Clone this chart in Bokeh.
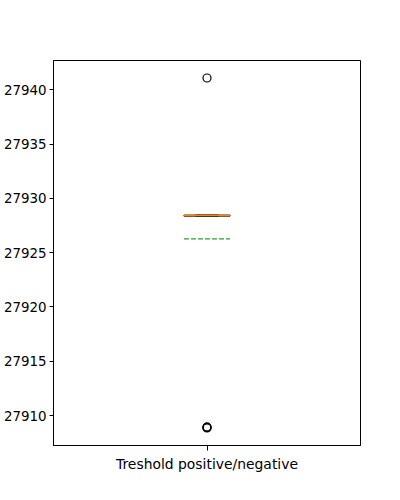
from bokeh.plotting import figure
from bokeh.models import FixedTicker, Range1d
from bokeh.embed import file_html
from bokeh.resources import INLINE

# ---- data ----
categories = ["Treshold positive/negative"]
positions = [1]
q1 = [27928.36]
median = [27928.42]
q3 = [27928.46]
whisker_low = [27928.36]
whisker_high = [27928.46]
mean = [27926.28]
outlier_x = [1, 1, 1, 1]
outlier_y = [27941.09, 27908.85, 27908.9, 27908.95]
y_ticks = [27910, 27915, 27920, 27925, 27930, 27935, 27940]

box_half = 0.075
cap_half = 0.0375
FONT = "DejaVu Sans"

p = figure(width=400, height=500, output_backend="svg", toolbar_location=None,
           x_range=Range1d(0.5, 1.5), y_range=Range1d(27907.24, 27942.70),
           min_border_left=50, min_border_right=40, min_border_top=60,
           min_border_bottom=55)

p.grid.visible = False
p.outline_line_color = "black"
p.outline_line_width = 1
p.background_fill_color = "white"
p.border_fill_color = "white"

for ax in (p.xaxis[0], p.yaxis[0]):
    ax.axis_line_color = "black"
    ax.major_tick_line_color = "black"
    ax.major_tick_in = 0
    ax.minor_tick_line_color = None
    ax.major_label_text_font = FONT
    ax.major_label_text_color = "black"

p.xaxis.major_tick_out = 5
p.xaxis.major_label_standoff = 5
p.xaxis.major_label_text_font_size = "13.9px"
p.yaxis.major_tick_out = 4
p.yaxis.major_label_standoff = 3
p.yaxis.major_label_text_font_size = "13.4px"

p.yaxis.ticker = FixedTicker(ticks=y_ticks)
p.xaxis.ticker = FixedTicker(ticks=positions)
p.xaxis.major_label_overrides = {pos: c for pos, c in zip(positions, categories)}

lefts = [x - box_half for x in positions]
rights = [x + box_half for x in positions]
cap_l = [x - cap_half for x in positions]
cap_r = [x + cap_half for x in positions]

# box
p.quad(left=lefts, right=rights, bottom=q1, top=q3, fill_color=None,
       line_color="black", line_width=1)
# whiskers
p.segment(x0=positions, x1=positions, y0=q1, y1=whisker_low, line_color="black", line_width=1)
p.segment(x0=positions, x1=positions, y0=q3, y1=whisker_high, line_color="black", line_width=1)
# caps
p.segment(x0=cap_l, x1=cap_r, y0=whisker_low, y1=whisker_low, line_color="black", line_width=1)
p.segment(x0=cap_l, x1=cap_r, y0=whisker_high, y1=whisker_high, line_color="black", line_width=1)
# median
p.segment(x0=lefts, x1=rights, y0=median, y1=median, line_color="#ff7f0e", line_width=1.5)
# mean line
p.segment(x0=lefts, x1=rights, y0=mean, y1=mean, line_color="#2ca02c", line_width=1.2,
          line_dash="5 2")
# outliers
p.scatter(x=outlier_x, y=outlier_y, marker="circle", size=8, fill_color=None,
          line_color="black", line_width=1.2)

open("out.html", "w").write(file_html(p, INLINE))
